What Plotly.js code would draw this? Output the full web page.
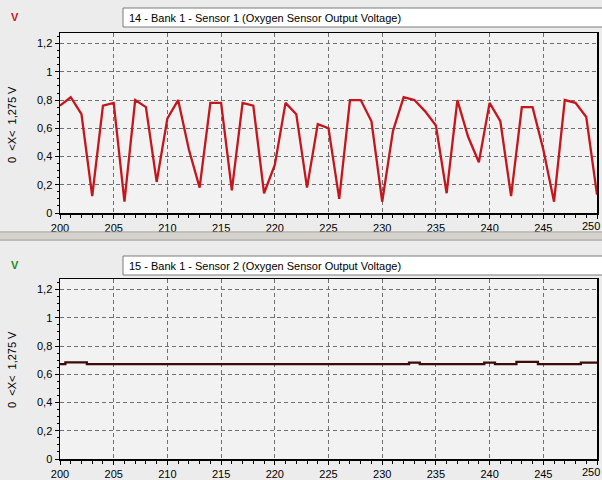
<!DOCTYPE html>
<html>
<head>
<meta charset="utf-8">
<script src="https://cdn.plot.ly/plotly-3.0.1.min.js"></script>
<style>html,body{margin:0;padding:0;background:#ececec;}#chart{width:602px;height:480px;}</style>
</head>
<body>
<div id="chart"></div>
<script>
// ---- data ----
const xs = [200,201,202,203,204,205,206,207,208,209,210,211,212,213,214,215,216,217,218,219,220,
            221,222,223,224,225,226,227,228,229,230,231,232,233,234,235,236,237,238,239,240,
            241,242,243,244,245,246,247,248,249,250];
const sensor1 = [0.76,0.82,0.70,0.12,0.76,0.78,0.08,0.80,0.75,0.22,0.67,
                 0.80,0.45,0.18,0.78,0.78,0.16,0.78,0.76,0.14,0.34,
                 0.78,0.70,0.18,0.63,0.60,0.10,0.80,0.80,0.65,0.08,
                 0.58,0.82,0.80,0.72,0.62,0.14,0.80,0.54,0.36,0.78,
                 0.65,0.12,0.75,0.75,0.45,0.08,0.80,0.78,0.68,0.13];
const sensor2 = [0.672,0.685,0.685,0.672,0.672,0.672,0.672,0.672,0.672,0.672,0.672,
                 0.672,0.672,0.672,0.672,0.672,0.672,0.672,0.672,0.672,0.672,
                 0.672,0.672,0.672,0.672,0.672,0.672,0.672,0.672,0.672,0.672,
                 0.672,0.672,0.682,0.672,0.672,0.672,0.672,0.672,0.672,0.682,
                 0.672,0.672,0.688,0.688,0.672,0.672,0.672,0.672,0.682,0.682];
const title1 = "14 - Bank 1 - Sensor 1 (Oxygen Sensor Output Voltage)";
const title2 = "15 - Bank 1 - Sensor 2 (Oxygen Sensor Output Voltage)";
const yLabel = "0  <X<  1,275 V";
const xTicks = [200,205,210,215,220,225,230,235,240,245,250];
const yTicks = [0,0.2,0.4,0.6,0.8,1,1.2];

const W = 602, H = 480;
const px = v => v / W;
const py = v => 1 - v / H;

const font = {family: "Liberation Sans, Arial, sans-serif", size: 11, color: "#000"};

function xaxis(anchor) {
  return {
    domain: [px(60), px(597)], anchor: anchor, range: [200, 250],
    tickvals: xTicks, ticks: "outside", ticklen: 4, tickcolor: "#000",
    showline: true, linecolor: "#000", linewidth: 1.5, mirror: true,
    showgrid: true, gridcolor: "#707070", griddash: "4px,3px", gridwidth: 1,
    zeroline: false, tickfont: font,
    minor: {dtick: 1, ticks: "outside", ticklen: 3, tickcolor: "#000", showgrid: false}
  };
}
function yaxis(anchor, dom) {
  return {
    domain: dom, anchor: anchor, range: [0, 1.275],
    tickvals: yTicks, ticks: "outside", ticklen: 4, tickcolor: "#000",
    showline: true, linecolor: "#000", linewidth: 1.5, mirror: true,
    showgrid: true, gridcolor: "#707070", griddash: "4px,3px", gridwidth: 1,
    zeroline: false, tickfont: font,
    minor: {dtick: 0.05, ticks: "outside", ticklen: 2, tickcolor: "#000", showgrid: false}
  };
}

const traces = [
  {x: xs, y: sensor1, type: "scatter", mode: "lines", xaxis: "x", yaxis: "y",
   line: {color: "#c4161c", width: 2.3}, hoverinfo: "skip"},
  {x: xs, y: sensor2, type: "scatter", mode: "lines", xaxis: "x2", yaxis: "y2",
   line: {color: "#3c0a0a", width: 2.3, shape: "hvh"}, hoverinfo: "skip"}
];

const layout = {
  width: W, height: H,
  margin: {l: 0, r: 0, t: 0, b: 0},
  paper_bgcolor: "#ececec",
  plot_bgcolor: "#f2f2f2",
  separators: ", ",
  showlegend: false,
  xaxis: xaxis("y"),
  yaxis: yaxis("x", [py(213), py(33)]),
  xaxis2: xaxis("y2"),
  yaxis2: yaxis("x2", [py(459), py(279)]),
  shapes: [
    // separator band
    {type: "rect", xref: "paper", yref: "paper", x0: 0, x1: 1, y0: py(241), y1: py(231),
     fillcolor: "#d6d3ce", line: {width: 0}, layer: "below"},
    {type: "line", xref: "paper", yref: "paper", x0: 0, x1: 1, y0: py(232), y1: py(232),
     line: {color: "#b0aca6", width: 1}},
    {type: "line", xref: "paper", yref: "paper", x0: 0, x1: 1, y0: py(240), y1: py(240),
     line: {color: "#a8a49e", width: 1}},
    // title boxes
    {type: "rect", xref: "paper", yref: "paper", x0: px(123), x1: px(603), y0: py(27), y1: py(8),
     fillcolor: "#ffffff", line: {color: "#7a7a7a", width: 1}, layer: "below"},
    {type: "rect", xref: "paper", yref: "paper", x0: px(123), x1: px(603), y0: py(275), y1: py(256),
     fillcolor: "#ffffff", line: {color: "#7a7a7a", width: 1}, layer: "below"}
  ],
  annotations: [
    {xref: "paper", yref: "paper", x: px(127), y: py(17.5), xanchor: "left", yanchor: "middle",
     text: title1, showarrow: false, font: font},
    {xref: "paper", yref: "paper", x: px(127), y: py(265.5), xanchor: "left", yanchor: "middle",
     text: title2, showarrow: false, font: font},
    {xref: "paper", yref: "paper", x: px(15), y: py(17), xanchor: "center", yanchor: "middle",
     text: "<b>V</b>", showarrow: false, font: {family: font.family, size: 11, color: "#c4161c"}},
    {xref: "paper", yref: "paper", x: px(15), y: py(265), xanchor: "center", yanchor: "middle",
     text: "<b>V</b>", showarrow: false, font: {family: font.family, size: 11, color: "#1a8a1a"}},
    {xref: "paper", yref: "paper", x: px(12), y: py(125), xanchor: "center", yanchor: "middle",
     text: yLabel, textangle: -90, showarrow: false, font: font},
    {xref: "paper", yref: "paper", x: px(12), y: py(370), xanchor: "center", yanchor: "middle",
     text: yLabel, textangle: -90, showarrow: false, font: font},
    // last x tick labels, kept inside the window
    {xref: "paper", yref: "paper", x: 1, y: py(218), xanchor: "right", yanchor: "top",
     text: String(xTicks[xTicks.length - 1]), showarrow: false, font: font},
    {xref: "paper", yref: "paper", x: 1, y: py(464), xanchor: "right", yanchor: "top",
     text: String(xTicks[xTicks.length - 1]), showarrow: false, font: font}
  ]
};

Plotly.newPlot("chart", traces, layout, {staticPlot: true, displayModeBar: false});
</script>
</body>
</html>
